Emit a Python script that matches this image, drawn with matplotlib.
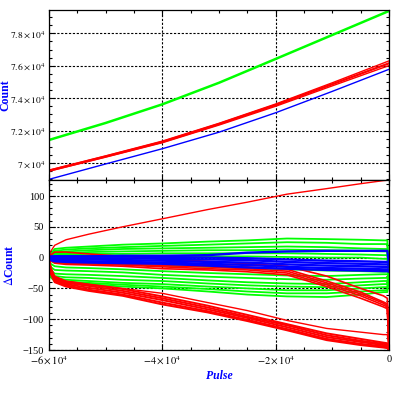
import numpy as np
import matplotlib
matplotlib.use('Agg')
import matplotlib.pyplot as plt
from matplotlib.ticker import MultipleLocator, FuncFormatter

# top panel: counts
top_x = [-60000, -50000, -40000, -30000, -20000, -10000, 0]
count_green = [71420, 72470, 73620, 74950, 76420, 77900, 79380]
count_red_a = [69560, 70440, 71350, 72450, 73640, 74950, 76300]
count_red_b = [69525, 70400, 71300, 72400, 73580, 74860, 76150]
count_red_c = [69490, 70360, 71250, 72340, 73500, 74760, 76010]
count_blue = [68990, 69940, 70880, 71900, 73100, 74420, 75780]

# bottom panel: delta count
dx = [-60000, -59700, -59000, -57000, -53000, -47000, -40000, -32000,
      -25000, -18000, -11000, -5000, -1000, -300, 0]

green_lines = [
    [0, 6, 14, 16, 18, 21, 23, 26, 28, 31, 30, 29, 28, 28, -25],
    [0, 5, 11, 13, 15, 17, 19, 21, 23, 25, 24, 22, 22, 22, -25],
    [0, 4, 8, 10, 12, 14, 15, 16, 17, 18, 17, 15, 14, 14, -25],
    [0, 3, 6, 7, 9, 10, 11, 12, 12, 13, 12, 11, 10, 10, -25],
    [0, 2, 4, 5, 6, 6, 7, 7, 7, 7, 6, 5, 4, 4, -25],
    [0, 1, 2, 3, 3, 3, 3, 2, 2, 1, 0, 0, -2, -2, -25],
    [0, -5, -8, -9, -10, -11, -13, -15, -17, -19, -21, -22, -23, -23, -25],
    [0, -10, -14, -16, -17, -19, -22, -25, -27, -29, -30, -28, -27, -27, -25],
    [0, -15, -20, -21, -22, -24, -28, -31, -33, -35, -36, -34, -33, -33, -25],
    [0, -20, -26, -27, -28, -30, -33, -37, -40, -42, -43, -40, -38, -38, -25],
    [0, -25, -30, -32, -33, -36, -38, -42, -45, -47, -48, -45, -43, -43, -25],
    [0, -28, -33, -36, -38, -41, -43, -47, -50, -53, -53, -50, -48, -48, -25],
    [0, -30, -36, -39, -41, -44, -47, -51, -55, -58, -58, -55, -53, -53, -25],
    [0, -32, -38, -41, -43, -47, -50, -55, -60, -63, -64, -60, -56, -56, -25],
]

red_upper = [0, 10, 20, 29, 38, 50, 63, 78, 90, 103, 112, 120, 125, 125.5, 125.5]
red_thin = [0, -15, -30, -38, -43, -50, -58, -73, -86, -102, -115, -121, -125, -125, -148]

red_mid = [
    [0, 4, 9, 9, 6, 2, -2, -6, -10, -14, -30, -50, -62, -66, -125],
    [0, -2, -3, -5, -6, -8, -10, -12, -15, -19, -38, -56, -72, -75, -135],
    [0, -3, -5, -7, -8, -10, -13, -15, -18, -22, -41, -59, -74, -78, -140],
    [0, -4, -7, -9, -10, -12, -15, -18, -20, -25, -44, -62, -77, -80, -145],
    [0, -5, -9, -11, -12, -14, -18, -20, -23, -28, -47, -66, -80, -83, -150],
]

red_low = [
    [0, -18, -32, -39, -44, -51, -63, -78, -93, -108, -123, -132, -138, -139, -150],
    [0, -20, -34, -41, -46, -54, -66, -81, -96, -110, -126, -135, -140, -141, -150],
    [0, -22, -36, -43, -49, -57, -69, -84, -98, -113, -129, -137, -142, -143, -150],
    [0, -24, -38, -45, -52, -60, -73, -87, -101, -116, -132, -140, -144, -145, -150],
    [0, -26, -40, -47, -54, -62, -76, -89, -103, -118, -134, -142, -146, -147, -150],
]

blue_lines = [
    [0, 1, 2, 2, 2, 3, 3, 4, 8, 10, 11, 11, 11, 11, -10],
    [0, 2, 2, 2, 2, 2, 1, 0, -1, -3, -5, -6, -7, -7, -8],
    [0, 0, -1, -1, -1, -1, -2, -3, -4, -7, -9, -10, -11, -11, -12],
    [0, -2, -3, -3, -3, -4, -5, -7, -8, -11, -13, -14, -15, -15, -16],
    [0, -3, -5, -5, -6, -7, -8, -10, -12, -15, -17, -18, -19, -19, -20],
    [0, -4, -6, -7, -8, -9, -10, -13, -16, -18, -20, -21, -22, -22, -23],
]

plt.rcParams['font.family'] = 'Liberation Serif'
plt.rcParams['mathtext.fontset'] = 'stix'

fig = plt.figure(figsize=(3.99, 3.99), dpi=100)
ax1 = fig.add_axes([49 / 399, 1 - 180 / 399, 340 / 399, 170 / 399])
ax2 = fig.add_axes([49 / 399, 1 - 350 / 399, 340 / 399, 170 / 399], sharex=ax1)


def sci(v, pos):
    if v == 0:
        return '0'
    return r'$%g\times10^4$' % (v / 1e4)


grid_kw = dict(color='black', linestyle=(0, (2, 1.5)), linewidth=0.8)

ax1.plot(top_x, count_green, color='#00ff00', linewidth=1.8)
ax1.plot(top_x, count_red_a, color='red', linewidth=1.0)
ax1.plot(top_x, count_red_b, color='red', linewidth=1.6)
ax1.plot(top_x, count_red_c, color='red', linewidth=1.0)
ax1.plot(top_x, count_blue, color='blue', linewidth=1.0)
ax1.set_ylim(68950, 79440)
ax1.yaxis.set_major_locator(MultipleLocator(2000))
ax1.yaxis.set_minor_locator(MultipleLocator(500))
ax1.yaxis.set_major_formatter(FuncFormatter(sci))
ax1.set_ylabel('Count', color='blue', fontweight='bold', fontsize=8.5)
ax1.yaxis.set_label_coords(-0.112, 0.5)
ax1.tick_params(labelbottom=False)

for ys in green_lines:
    ax2.plot(dx, ys, color='#00ff00', linewidth=1.3)
ax2.plot(dx, red_upper, color='red', linewidth=1.0)
ax2.plot(dx, red_thin, color='red', linewidth=1.0)
for ys in red_mid:
    ax2.plot(dx, ys, color='red', linewidth=1.2)
for ys in red_low:
    ax2.plot(dx, ys, color='red', linewidth=1.4)
for ys in blue_lines:
    ax2.plot(dx, ys, color='blue', linewidth=1.7)
ax2.set_ylim(-150, 126)
ax2.yaxis.set_major_locator(MultipleLocator(50))
ax2.yaxis.set_minor_locator(MultipleLocator(10))
ax2.set_ylabel(r'$\Delta$Count', color='blue', fontweight='bold', fontsize=8.5)
ax2.yaxis.set_label_coords(-0.098, 0.5)
ax2.set_xlabel('Pulse', color='blue', fontweight='bold', style='italic', fontsize=8.5)
ax2.xaxis.set_label_coords(0.5, -0.12)

ax2.set_xlim(-60000, 0)
ax2.xaxis.set_major_locator(MultipleLocator(20000))
ax2.xaxis.set_minor_locator(MultipleLocator(5000))
ax2.xaxis.set_major_formatter(FuncFormatter(sci))

for ax in (ax1, ax2):
    ax.grid(True, which='major', **grid_kw)
    ax.set_axisbelow(True)
    ax.tick_params(which='both', direction='in', top=True, right=True,
                   labelsize=7.5, width=0.8)
    ax.tick_params(which='major', length=4.5)
    ax.tick_params(which='minor', length=2.5)
    for s in ax.spines.values():
        s.set_linewidth(0.9)

ax1.tick_params(axis='y', labelsize=6.8, pad=2.5)

fig.savefig('out.png', dpi=100)
